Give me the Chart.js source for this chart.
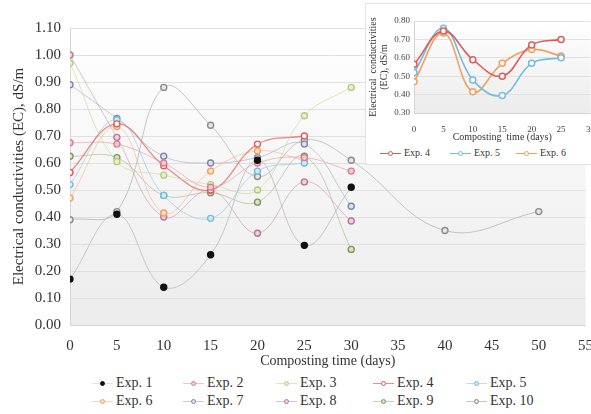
<!DOCTYPE html>
<html lang="en">
<head>
    <meta charset="UTF-8">
    <title>EC vs composting time</title>
    <script src="https://cdn.jsdelivr.net/npm/chart.js"></script>
    <style>
        body {
            margin: 0;
            width: 591px;
            height: 414px;
            overflow: hidden;
            background: #ffffff;
            font-family: "Liberation Serif", "Times New Roman", serif;
            position: relative;
        }
        #mainChart {
            position: absolute;
            left: 0;
            top: 0;
        }
        #inset {
            position: absolute;
            left: 365px;
            top: 3px;
            width: 232px;
            height: 160px;
            background: #ffffff;
            border: 1px solid #e4e4e4;
        }
        #insetChart {
            position: absolute;
            left: 0;
            top: 0;
        }
        .legend-item {
            position: absolute;
            height: 16px;
            line-height: 16px;
            color: #333;
            white-space: nowrap;
        }
        .swatch {
            position: absolute;
            top: 0;
            height: 16px;
        }
        .swatch .line {
            position: absolute;
            left: 0;
            right: 0;
            top: 8px;
            height: 1px;
        }
        .swatch .dot {
            position: absolute;
            border-radius: 50%;
            box-sizing: border-box;
        }
    </style>
</head>
<body>
<canvas id="mainChart" width="591" height="372"></canvas>
<div id="legend"></div>
<div id="inset">
    <canvas id="insetChart" width="232" height="140"></canvas>
    <div id="insetLegend"></div>
</div>
<script>
    // sampling days
    const days = [0, 5, 10, 15, 20, 25, 30];
    const daysShort = [0, 5, 10, 15, 20, 25];
    const daysLong = [0, 5, 10, 15, 20, 25, 30, 40, 50];

    // EC values (dS/m)
    const exp1 = [0.17, 0.41, 0.14, 0.26, 0.61, 0.295, 0.51];
    const exp2 = [0.675, 0.67, 0.60, 0.51, 0.60, 0.62, 0.57];
    const exp3 = [0.97, 0.605, 0.555, 0.52, 0.50, 0.775, 0.88];
    const exp4 = [0.565, 0.745, 0.59, 0.50, 0.67, 0.70];
    const exp5 = [0.52, 0.76, 0.48, 0.395, 0.57, 0.60];
    const exp6 = [0.47, 0.735, 0.415, 0.57, 0.645, 0.61];
    const exp7 = [0.89, 0.765, 0.625, 0.60, 0.62, 0.67, 0.44];
    const exp8 = [1.00, 0.695, 0.40, 0.50, 0.34, 0.53, 0.385];
    const exp9 = [0.625, 0.62, 0.48, 0.49, 0.455, 0.625, 0.28];
    const exp10 = [0.39, 0.42, 0.88, 0.74, 0.55, 0.685, 0.61, 0.35, 0.42];

    const labels = ['Exp. 1', 'Exp. 2', 'Exp. 3', 'Exp. 4', 'Exp. 5',
                    'Exp. 6', 'Exp. 7', 'Exp. 8', 'Exp. 9', 'Exp. 10'];

    const series = [
        { x: days, y: exp1, line: 'rgba(175,175,175,0.65)', point: '#111111', fill: '#111111' },
        { x: days, y: exp2, line: 'rgba(232,150,160,0.6)', point: '#d98090', fill: '#f3c9cf' },
        { x: days, y: exp3, line: 'rgba(205,222,160,0.7)', point: '#b5cc7c', fill: '#e6efcf' },
        { x: daysShort, y: exp4, line: 'rgba(228,100,100,0.75)', point: '#e05a5a', fill: '#ffffff' },
        { x: daysShort, y: exp5, line: 'rgba(140,200,228,0.6)', point: '#74bcdc', fill: '#d2ecf6' },
        { x: daysShort, y: exp6, line: 'rgba(245,185,130,0.6)', point: '#f0a060', fill: '#fbe0c8' },
        { x: days, y: exp7, line: 'rgba(165,168,195,0.6)', point: '#7f86ad', fill: '#dfe1ee' },
        { x: days, y: exp8, line: 'rgba(205,150,175,0.6)', point: '#b8789a', fill: '#ecd2de' },
        { x: days, y: exp9, line: 'rgba(170,180,140,0.6)', point: '#7f9660', fill: '#d9e2c8' },
        { x: daysLong, y: exp10, line: 'rgba(170,170,170,0.65)', point: '#8c8c8c', fill: '#e6e6e6' }
    ];

    function toPoints(xs, ys) {
        return ys.map((v, i) => ({ x: xs[i], y: v }));
    }

    // light gradient behind the plot area
    const plotBackground = {
        id: 'plotBackground',
        beforeDraw(chart) {
            const a = chart.chartArea;
            const c = chart.ctx;
            const g = c.createLinearGradient(0, a.top, 0, a.bottom);
            g.addColorStop(0, '#ffffff');
            g.addColorStop(1, '#ececec');
            c.save();
            c.fillStyle = g;
            c.fillRect(a.left, a.top, a.right - a.left, a.bottom - a.top);
            c.restore();
        }
    };

    const mainDatasets = series.map((s, i) => ({
        label: labels[i],
        data: toPoints(s.x, s.y),
        borderColor: s.line,
        borderWidth: i === 3 ? 1.3 : 1,
        pointBorderColor: s.point,
        pointBackgroundColor: s.fill,
        pointRadius: 3,
        pointBorderWidth: 1.4,
        tension: 0.4
    }));

    new Chart(document.getElementById('mainChart'), {
        type: 'line',
        data: { datasets: mainDatasets },
        plugins: [plotBackground],
        options: {
            responsive: false,
            animation: false,
            layout: { padding: { top: 28, right: 4, left: 0, bottom: 0 } },
            plugins: { legend: { display: false }, tooltip: { enabled: false } },
            scales: {
                x: {
                    type: 'linear',
                    min: 0,
                    max: 55,
                    ticks: { stepSize: 5, color: '#333', padding: 4,
                             font: { family: 'Liberation Serif', size: 15 } },
                    grid: { display: false },
                    border: { color: '#d6d6d6' },
                    title: { display: true, text: 'Composting time (days)', color: '#333',
                             font: { family: 'Liberation Serif', size: 14 },
                             padding: { top: 2, bottom: 2 } },
                    afterFit(scale) {
                        scale.height = 47;
                        scale.paddingRight = 0;
                        scale.paddingLeft = 0;
                    }
                },
                y: {
                    min: 0,
                    max: 1.1,
                    ticks: { stepSize: 0.1, color: '#333', padding: 9,
                             font: { family: 'Liberation Serif', size: 15 },
                             callback: v => v.toFixed(2) },
                    grid: { color: '#e0e0e0', drawTicks: false },
                    border: { color: '#d6d6d6' },
                    title: { display: true, text: 'Electrical conductivities (EC), dS/m', color: '#333',
                             font: { family: 'Liberation Serif', size: 15 },
                             padding: { top: 10, bottom: 0 } },
                    afterFit(scale) { scale.width = 70; }
                }
            }
        }
    });

    const insetDatasets = [3, 4, 5].map(i => ({
        label: labels[i],
        data: toPoints(series[i].x, series[i].y),
        borderColor: series[i].point,
        borderWidth: 1.6,
        pointBorderColor: series[i].point,
        pointBackgroundColor: '#ffffff',
        pointRadius: 3,
        pointBorderWidth: 1.5,
        tension: 0.4
    }));

    new Chart(document.getElementById('insetChart'), {
        type: 'line',
        data: { datasets: insetDatasets },
        plugins: [plotBackground],
        options: {
            responsive: false,
            animation: false,
            layout: { padding: { top: 17, right: 6, left: 0, bottom: 0 } },
            plugins: { legend: { display: false }, tooltip: { enabled: false } },
            scales: {
                x: {
                    type: 'linear',
                    min: 0,
                    max: 30,
                    ticks: { stepSize: 5, color: '#444', padding: 3,
                             font: { family: 'Liberation Serif', size: 9 } },
                    grid: { display: false },
                    border: { color: '#d6d6d6' },
                    title: { display: true, text: 'Composting  time (days)', color: '#333',
                             font: { family: 'Liberation Serif', size: 10 },
                             padding: { top: 0, bottom: 1 } },
                    afterFit(scale) { scale.height = 31; }
                },
                y: {
                    min: 0.3,
                    max: 0.8,
                    ticks: { stepSize: 0.1, color: '#444', padding: 4,
                             font: { family: 'Liberation Serif', size: 9 },
                             callback: v => v.toFixed(2) },
                    grid: { color: '#e0e0e0', drawTicks: false },
                    border: { color: '#d6d6d6' },
                    title: { display: true, text: ['Electrical  conductivities', '(EC), dS/m'], color: '#333',
                             font: { family: 'Liberation Serif', size: 10, lineHeight: 1.1 },
                             padding: { top: 2, bottom: 0 } },
                    afterFit(scale) { scale.width = 48; }
                }
            }
        }
    });

    // legends laid out in fixed columns like the original
    function addLegendItem(parent, idx, x, y, size, lineColor, dotColor, dotFill, dotSize) {
        const item = document.createElement('div');
        item.className = 'legend-item';
        item.style.left = x + 'px';
        item.style.top = (y - 8) + 'px';
        item.style.fontSize = size + 'px';
        item.style.paddingLeft = '24px';
        const sw = document.createElement('span');
        sw.className = 'swatch';
        sw.style.left = '0px';
        sw.style.width = '21px';
        const ln = document.createElement('span');
        ln.className = 'line';
        ln.style.background = lineColor;
        const dot = document.createElement('span');
        dot.className = 'dot';
        dot.style.width = dotSize + 'px';
        dot.style.height = dotSize + 'px';
        dot.style.left = (10.5 - dotSize / 2) + 'px';
        dot.style.top = (8.5 - dotSize / 2) + 'px';
        dot.style.border = '1.2px solid ' + dotColor;
        dot.style.background = dotFill;
        sw.appendChild(ln);
        sw.appendChild(dot);
        item.appendChild(sw);
        item.appendChild(document.createTextNode(labels[idx]));
        parent.appendChild(item);
    }

    const legendCols = [92, 183, 276, 373, 466];
    const legendRows = [383, 401];
    const legendEl = document.getElementById('legend');
    series.forEach((s, i) => {
        addLegendItem(legendEl, i, legendCols[i % 5], legendRows[Math.floor(i / 5)], 14,
                      i === 0 ? 'rgba(200,200,200,0.5)' : s.line, s.point, s.fill, 5);
    });

    const insetLegendEl = document.getElementById('insetLegend');
    [3, 4, 5].forEach((i, k) => {
        addLegendItem(insetLegendEl, i, [14, 84, 150][k], 149, 10,
                      series[i].point, series[i].point, '#ffffff', 5);
    });
</script>
</body>
</html>
